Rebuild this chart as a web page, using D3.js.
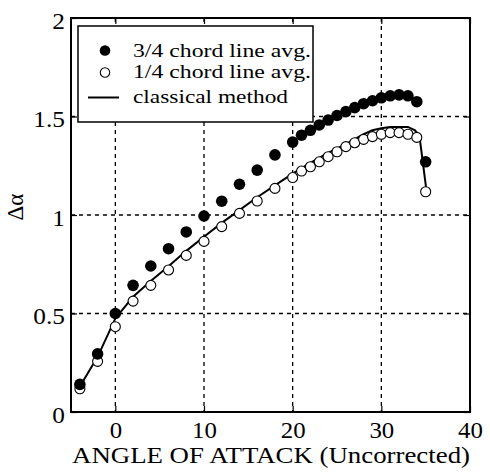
<!DOCTYPE html>
<html><head><meta charset="utf-8">
<script src="https://cdn.jsdelivr.net/npm/d3@7"></script>
<style>body{margin:0;background:#fff}svg{display:block}text{font-family:"Liberation Serif","Times New Roman",serif;fill:#000}</style>
</head><body><svg id="c" width="490" height="474"></svg>
<script>
const angles = [-4,-2,0,2,4,6,8,10,12,14,16,18,20,21,22,23,24,25,26,27,28,29,30,31,32,33,34,35];
const threeQuarter = [0.14,0.295,0.50,0.643,0.741,0.829,0.914,0.995,1.07,1.156,1.228,1.305,1.37,1.405,1.43,1.457,1.482,1.505,1.525,1.545,1.565,1.58,1.595,1.605,1.61,1.605,1.575,1.27];
const oneQuarter = [0.118,0.257,0.433,0.563,0.643,0.721,0.795,0.866,0.941,1.008,1.071,1.135,1.19,1.223,1.245,1.27,1.296,1.321,1.347,1.367,1.384,1.398,1.41,1.418,1.418,1.41,1.394,1.118];
const classicalX = [-4,-2,0,2,4,6,8,10,12,14,16,18,20,22,24,26,28,29,30,31,33,33.8,34.3,35.1];
const classicalY = [0.13,0.28,0.475,0.585,0.665,0.74,0.818,0.89,0.96,1.025,1.09,1.15,1.21,1.265,1.315,1.36,1.41,1.43,1.44,1.447,1.447,1.43,1.40,1.12];
const xTicks = [0,10,20,30,40];
const yTicks = [0,0.5,1,1.5,2];
const yTickLabels = ["0","0.5","1","1.5","2"];
const legendLabels = ["3/4 chord line avg.","1/4 chord line avg.","classical method"];

const svg = d3.select("#c");
const L=71,R=470,T=18,B=412;
const x = d3.scaleLinear().domain([-5,40]).range([L,R]);
const y = d3.scaleLinear().domain([0,2]).range([B,T]);

function stretch(sel,f){sel.each(function(){const w=this.getComputedTextLength();d3.select(this).attr("textLength",w*f).attr("lengthAdjust","spacingAndGlyphs");});}

// grid
const g = svg.append("g");
[0,10,20,30].forEach(v=>g.append("line").attr("x1",x(v)).attr("x2",x(v)).attr("y1",T).attr("y2",B)
  .attr("stroke","#000").attr("stroke-width",1.3).attr("stroke-dasharray","4,4"));
[0.5,1,1.5].forEach(v=>g.append("line").attr("x1",L).attr("x2",R).attr("y1",y(v)).attr("y2",y(v))
  .attr("stroke","#000").attr("stroke-width",1.3).attr("stroke-dasharray","4,4"));

// axes with inner ticks
svg.append("g").attr("transform",`translate(0,${B})`)
  .call(d3.axisBottom(x).tickValues(xTicks).tickSize(-6).tickPadding(10).tickFormat(d3.format("d")))
  .call(a=>{a.select(".domain").remove();a.selectAll("line").attr("stroke-width",1.2);a.selectAll("text").style("font-size","23px").attr("fill","#000").call(stretch,1.08);});
svg.append("g").attr("transform",`translate(0,${T})`)
  .call(d3.axisTop(x).tickValues(xTicks).tickSize(-6).tickFormat(""))
  .call(a=>{a.select(".domain").remove();a.selectAll("line").attr("stroke-width",1.2);});
svg.append("g").attr("transform",`translate(${L},0)`)
  .call(d3.axisLeft(y).tickValues(yTicks).tickSize(-6).tickPadding(6).tickFormat((d,i)=>yTickLabels[i]))
  .call(a=>{a.select(".domain").remove();a.selectAll("line").attr("stroke-width",1.2);a.selectAll("text").style("font-size","23px").attr("fill","#000").attr("y",3).call(stretch,1.1);});
svg.append("g").attr("transform",`translate(${R},0)`)
  .call(d3.axisRight(y).tickValues(yTicks).tickSize(-6).tickFormat(""))
  .call(a=>{a.select(".domain").remove();a.selectAll("line").attr("stroke-width",1.2);});

// frame
svg.append("rect").attr("x",L).attr("y",T).attr("width",R-L).attr("height",B-T)
  .attr("fill","none").attr("stroke","#000").attr("stroke-width",2);

// classical line
const line = d3.line().x(d=>x(d[0])).y(d=>y(d[1]));
svg.append("path").datum(classicalX.map((v,i)=>[v,classicalY[i]]))
  .attr("d",line).attr("fill","none").attr("stroke","#000").attr("stroke-width",2);

// open
svg.append("g").selectAll("circle").data(angles.map((v,i)=>[v,oneQuarter[i]])).join("circle")
  .attr("cx",d=>x(d[0])).attr("cy",d=>y(d[1])).attr("r",5)
  .attr("fill","#fff").attr("stroke","#000").attr("stroke-width",1.1);
// filled
svg.append("g").selectAll("circle").data(angles.map((v,i)=>[v,threeQuarter[i]])).join("circle")
  .attr("cx",d=>x(d[0])).attr("cy",d=>y(d[1])).attr("r",5.8).attr("fill","#000");

// legend
const lg = svg.append("g");
lg.append("rect").attr("x",78).attr("y",26).attr("width",235).attr("height",96)
  .attr("fill","#fff").attr("stroke","#000").attr("stroke-width",1.5);
const rows=[50.5,72.5,97.5];
const baselines=[56.5,78,103];
const widths=[178,178,155];
lg.append("circle").attr("cx",105).attr("cy",rows[0]).attr("r",5.3).attr("fill","#000");
lg.append("circle").attr("cx",105).attr("cy",rows[1]).attr("r",4.7).attr("fill","#fff").attr("stroke","#000").attr("stroke-width",1.1);
lg.append("line").attr("x1",88).attr("x2",119).attr("y1",rows[2]).attr("y2",rows[2]).attr("stroke","#000").attr("stroke-width",2);
legendLabels.forEach((t,i)=>lg.append("text").attr("x",133).attr("y",baselines[i]).style("font-size","18.5px")
  .attr("textLength",widths[i]).attr("lengthAdjust","spacingAndGlyphs").text(t));

// axis titles
svg.append("text").attr("x",72).attr("y",463).style("font-size","24px")
  .attr("textLength",398).attr("lengthAdjust","spacingAndGlyphs")
  .text("ANGLE OF ATTACK (Uncorrected)");
svg.append("text").attr("transform","translate(23,207) rotate(-90)").attr("text-anchor","middle").style("font-size","23px")
  .text("Δα");
</script></body></html>
